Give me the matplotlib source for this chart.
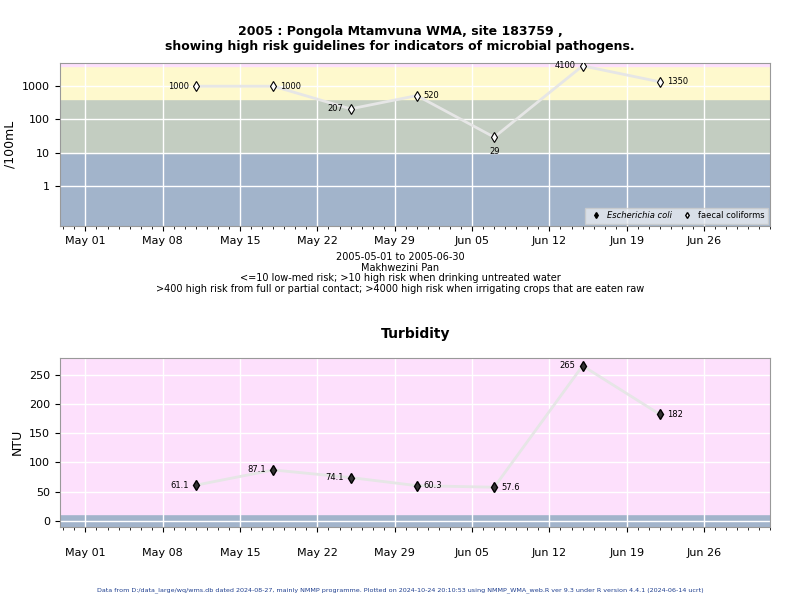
import matplotlib
matplotlib.use('Agg')
import matplotlib.pyplot as plt
import matplotlib.dates as mdates
import numpy as np
from datetime import datetime, timedelta

dates = ['2005-05-11', '2005-05-18', '2005-05-25', '2005-05-31',
         '2005-06-07', '2005-06-15', '2005-06-22']
faecal = [1000, 1000, 207, 520, 29, 4100, 1350]
ntu = [61.1, 87.1, 74.1, 60.3, 57.6, 265, 182]
faecal_lab = ['1000', '1000', '207', '520', '29', '4100', '1350']
ntu_lab = ['61.1', '87.1', '74.1', '60.3', '57.6', '265', '182']
# label side: -1 left, 1 right, 0 below
faecal_side = [-1, 1, -1, 1, 0, -1, 1]
ntu_side = [-1, -1, -1, 1, 1, -1, 1]

x = [datetime.strptime(d, '%Y-%m-%d') for d in dates]
xlo = datetime(2005, 5, 1) - timedelta(days=2.3)
xhi = datetime(2005, 7, 2)

BLUE = '#a2b4cb'
GREEN = '#c3cdc1'
YEL = '#fef9cd'
PINK = '#fde0fc'

fig = plt.figure(figsize=(8, 6), dpi=100)
ax1 = fig.add_axes([0.075, 0.623, 0.888, 0.272])
ax2 = fig.add_axes([0.075, 0.122, 0.888, 0.282])

def style_x(ax):
    ax.set_xlim(xlo, xhi)
    ax.xaxis.set_major_locator(mdates.WeekdayLocator(byweekday=mdates.SU))
    ax.xaxis.set_major_formatter(mdates.DateFormatter('%b %d'))
    ax.xaxis.set_minor_locator(mdates.DayLocator())
    ax.tick_params(axis='x', which='minor', length=2)
    ax.tick_params(labelsize=8, colors='black')
    ax.grid(True, color='white', lw=1)
    ax.set_axisbelow(True)
    for s in ax.spines.values():
        s.set_color('#999999')

# top panel
ax1.set_yscale('log')
ax1.set_ylim(0.06, 5000)
ax1.axhspan(0.01, 10, color=BLUE, zorder=0)
ax1.axhspan(10, 400, color=GREEN, zorder=0)
ax1.axhspan(400, 4000, color=YEL, zorder=0)
ax1.axhspan(4000, 1e5, color=PINK, zorder=0)
ax1.set_yticks([1, 10, 100, 1000])
ax1.set_yticklabels(['1', '10', '100', '1000'])
ax1.yaxis.set_minor_locator(matplotlib.ticker.NullLocator())
ax1.plot(x, faecal, color='#e6e6e6', lw=2, zorder=2)
ax1.plot(x, faecal, 'd', mfc='white', mec='black', ms=5, mew=0.8, zorder=3)
for xi, yi, t, s in zip(x, faecal, faecal_lab, faecal_side):
    if s == 0:
        ax1.annotate(t, (xi, yi), xytext=(0, -10), textcoords='offset points', ha='center', va='center', fontsize=6)
    else:
        ax1.annotate(t, (xi, yi), xytext=(5 * s, 0), textcoords='offset points',
                     ha='left' if s > 0 else 'right', va='center', fontsize=6)
ax1.set_ylabel('/100mL', fontsize=9)
style_x(ax1)
h1, = ax1.plot([], [], 'd', mfc='black', mec='black', ms=3, ls='none')
h2, = ax1.plot([], [], 'd', mfc='white', mec='black', ms=3, ls='none')
leg = ax1.legend([h1, h2], ['Escherichia coli', 'faecal coliforms'], loc='lower right',
                 fontsize=6, ncol=2, frameon=True, fancybox=False, handletextpad=0.3,
                 columnspacing=0.8, borderaxespad=0.3)
leg.get_frame().set_facecolor('#e8ebf0')
leg.get_frame().set_edgecolor('#cccccc')
leg.get_texts()[0].set_style('italic')

fig.text(0.5, 0.935, '2005 : Pongola Mtamvuna WMA, site 183759 ,\nshowing high risk guidelines for indicators of microbial pathogens.',
         ha='center', va='center', fontsize=9, fontweight='bold')
fig.text(0.5, 0.545, '2005-05-01 to 2005-06-30\nMakhwezini Pan\n<=10 low-med risk; >10 high risk when drinking untreated water\n'
         '>400 high risk from full or partial contact; >4000 high risk when irrigating crops that are eaten raw',
         ha='center', va='center', fontsize=7, linespacing=1.1)

# bottom panel
ax2.set_ylim(-10, 279)
ax2.axhspan(-50, 12, color=BLUE, zorder=0)
ax2.axhspan(12, 400, color=PINK, zorder=0)
ax2.set_yticks([0, 50, 100, 150, 200, 250])
ax2.plot(x, ntu, color='#e6e6e6', lw=2, zorder=2)
ax2.plot(x, ntu, 'd', mfc='#333333', mec='black', ms=5, zorder=3)
for xi, yi, t, s in zip(x, ntu, ntu_lab, ntu_side):
    ax2.annotate(t, (xi, yi), xytext=(5 * s, 0), textcoords='offset points',
                 ha='left' if s > 0 else 'right', va='center', fontsize=6)
ax2.set_ylabel('NTU', fontsize=9)
style_x(ax2)
ax2.tick_params(axis='x', pad=12)
ax2.set_title('Turbidity', fontsize=10, fontweight='bold', pad=14)

fig.text(0.5, 0.012, 'Data from D:/data_large/wq/wms.db dated 2024-08-27, mainly NMMP programme. Plotted on 2024-10-24 20:10:53 using NMMP_WMA_web.R ver 9.3 under R version 4.4.1 (2024-06-14 ucrt)',
         ha='center', va='bottom', fontsize=4.6, color='#1f3f8f')

fig.savefig('out.png', dpi=100)
